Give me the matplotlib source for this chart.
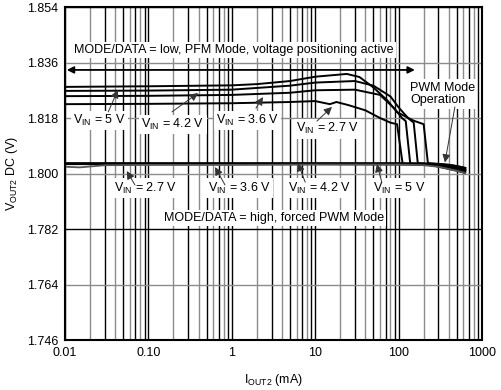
import numpy as np
import matplotlib
matplotlib.use("Agg")
import matplotlib.pyplot as plt

plt.rcParams['font.family'] = ['Liberation Sans', 'DejaVu Sans']
plt.rcParams['mathtext.fontset'] = 'custom'
plt.rcParams['mathtext.rm'] = 'Liberation Sans'

# PFM mode (MODE/DATA = low) curves, I in mA, V in volts
i_5v = [0.01, 0.1, 1, 2, 5, 10, 24, 34, 49, 73, 96, 150, 200, 225, 300, 400, 500, 630]
v_5v = [1.8281, 1.8283, 1.8286, 1.8290, 1.8300, 1.8314, 1.8323, 1.8313, 1.8281,
        1.8238, 1.8199, 1.8172, 1.8160, 1.8034, 1.8031, 1.8028, 1.8024, 1.8018]
i_42v = [0.01, 0.1, 1, 5, 10, 30, 50, 80, 100, 130, 152, 170, 250, 400, 500, 630]
v_42v = [1.8268, 1.8269, 1.8272, 1.8285, 1.8295, 1.8300, 1.8285, 1.8250,
         1.8215, 1.8180, 1.8165, 1.8034, 1.8031, 1.8025, 1.8020, 1.8013]
i_36v = [0.01, 0.1, 1, 5, 10, 30, 60, 90, 110, 122, 138, 250, 400, 500, 630]
v_36v = [1.8251, 1.8252, 1.8255, 1.8262, 1.8270, 1.8272, 1.8255, 1.8210,
         1.8180, 1.8170, 1.8033, 1.8029, 1.8020, 1.8014, 1.8008]
i_27v = [0.01, 0.1, 1, 5, 10, 15, 18, 25, 40, 60, 80, 96, 112, 250, 400, 500, 630]
v_27v = [1.8225, 1.8226, 1.8228, 1.8232, 1.8235, 1.8225, 1.8232, 1.8222, 1.8205,
         1.8180, 1.8165, 1.8160, 1.8032, 1.8027, 1.8015, 1.8009, 1.8002]

# forced PWM mode (MODE/DATA = high)
i_pwm = [0.01, 0.015, 0.03, 0.1, 1, 10, 100, 200, 300, 400, 500, 630]
pwm_5v = [1.8033, 1.8033, 1.8033, 1.8033, 1.8033, 1.8033, 1.8033, 1.8032, 1.8031, 1.8028, 1.8024, 1.8018]
pwm_42v = [1.8032, 1.8032, 1.8032, 1.8032, 1.8032, 1.8032, 1.8032, 1.8031, 1.8029, 1.8025, 1.8020, 1.8013]
pwm_36v = [1.8031, 1.8031, 1.8031, 1.8031, 1.8031, 1.8031, 1.8030, 1.8029, 1.8026, 1.8020, 1.8014, 1.8008]
pwm_27v = [1.8022, 1.8020, 1.8027, 1.8028, 1.8028, 1.8029, 1.8029, 1.8027, 1.8022, 1.8015, 1.8009, 1.8002]

y_ticks = [1.746, 1.764, 1.782, 1.800, 1.818, 1.836, 1.854]
y_grid_colors = ['k', '#8c8c8c', 'k', '#8c8c8c', '#8c8c8c', '#8c8c8c', 'k']
x_ticks = [0.01, 0.1, 1, 10, 100, 1000]
x_ticklabels = ['0.01', '0.10', '1', '10', '100', '1000']

fig = plt.figure(figsize=(5.02, 3.90), dpi=100)
ax = fig.add_axes([0.1295, 0.128, 0.8305, 0.854])
ax.set_xscale('log')
ax.set_xlim(0.01, 1000)
ax.set_ylim(1.746, 1.854)

# grid
for dec in [0.01, 0.1, 1, 10, 100]:
    for m in range(1, 10):
        c = 'k' if m % 2 == 1 else '#8c8c8c'
        ax.axvline(m * dec, color=c, lw=1.0, zorder=1)
for yv, c in zip(y_ticks, y_grid_colors):
    ax.axhline(yv, color=c, lw=1.0, zorder=1)

# curves
for ii, vv in [(i_5v, v_5v), (i_42v, v_42v), (i_36v, v_36v), (i_27v, v_27v)]:
    ax.plot(ii, vv, color='k', lw=1.4, zorder=3)
for vv in [pwm_5v, pwm_42v, pwm_36v]:
    ax.plot(i_pwm, vv, color='k', lw=1.6, zorder=3)
ax.plot(i_pwm, pwm_27v, color='#555555', lw=1.3, zorder=3)

ax.set_xticks(x_ticks)
ax.set_xticklabels(x_ticklabels)
ax.set_yticks(y_ticks)
ax.set_yticklabels(['%.3f' % y for y in y_ticks])
ax.minorticks_off()
ax.tick_params(length=0, labelsize=9, pad=5)
for s in ax.spines.values():
    s.set_linewidth(1.5)
    s.set_zorder(5)

ax.set_xlabel(r'I$_{\mathregular{OUT2}}$ (mA)', fontsize=9, labelpad=9)
ax.set_ylabel(r'V$_{\mathregular{OUT2}}$ DC (V)', fontsize=9, labelpad=5)

box = dict(facecolor='white', edgecolor='none', pad=1.5)
tkw = dict(fontsize=9, ha='center', va='center', bbox=box, zorder=6)
akw = dict(arrowstyle='-|>', color='#333333', lw=0.7, mutation_scale=12,
           shrinkA=0, shrinkB=0)

# top mode annotation
ax.text(1.06, 1.8401, 'MODE/DATA = low, PFM Mode, voltage positioning active', **tkw)
ax.annotate('', xy=(0.0105, 1.8336), xytext=(157, 1.8336),
            arrowprops=dict(arrowstyle='<|-|>', color='k', lw=1.3, mutation_scale=10,
                            shrinkA=0, shrinkB=0), zorder=6)

ax.text(3.2, 1.7856, 'MODE/DATA = high, forced PWM Mode', **tkw)
ax.text(137, 1.8258, 'PWM Mode\nOperation', fontsize=9, ha='left', va='center',
        bbox=box, zorder=6, linespacing=1.1)
ax.annotate('', xy=(360, 1.8036), xytext=(474, 1.8216), arrowprops=akw, zorder=7)

vin = r'V$_{\mathregular{IN}}$ = '
# labels: (text, label x, label y, arrow tip x, tip y, tail x, tail y)
pfm_labels = [('5 V', 0.026, 1.8172, 0.043, 1.8271, 0.033, 1.8200),
              ('4.2 V', 0.197, 1.8160, 0.394, 1.8261, 0.192, 1.8200),
              ('3.6 V', 1.56, 1.8172, 2.37, 1.8248, 1.95, 1.8212),
              ('2.7 V', 14.0, 1.8145, 15.9, 1.8216, 10.5, 1.8170)]
pwm_labels = [('2.7 V', 0.092, 1.7953, 0.055, 1.8008, 0.069, 1.7963),
              ('3.6 V', 1.25, 1.7953, 0.63, 1.8021, 0.83, 1.7963),
              ('4.2 V', 11.4, 1.7953, 6.2, 1.8034, 7.6, 1.7972),
              ('5 V', 101, 1.7953, 55, 1.8031, 63, 1.7972)]
for t, lx, ly, ax_, ay, tx, ty in pfm_labels + pwm_labels:
    ax.text(lx, ly, vin + t, **tkw)
    ax.annotate('', xy=(ax_, ay), xytext=(tx, ty), arrowprops=akw, zorder=7)

fig.savefig('out.png', dpi=100)
